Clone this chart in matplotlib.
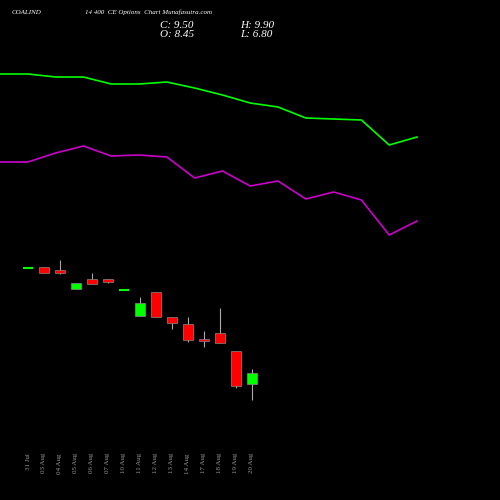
import matplotlib
matplotlib.use('Agg')
import matplotlib.pyplot as plt

dates = ['31 Jul', '03 Aug', '04 Aug', '05 Aug', '06 Aug', '07 Aug', '10 Aug', '11 Aug',
         '12 Aug', '13 Aug', '14 Aug', '17 Aug', '18 Aug', '19 Aug', '20 Aug']
opens = [20.0, 20.06, 19.8, 17.9, 18.93, 18.93, 17.8, 15.23, 17.6, 15.1, 14.4, 12.9, 13.47, 11.7, 8.45]
closes = [20.0, 19.5, 19.53, 18.53, 18.37, 18.63, 17.8, 16.47, 15.1, 14.5, 12.77, 12.67, 12.53, 8.17, 9.5]
highs = [20.0, 20.06, 20.8, 18.53, 19.53, 18.93, 17.8, 17.13, 17.6, 15.1, 15.1, 13.67, 16.0, 11.7, 9.9]
lows = [20.0, 19.5, 19.4, 17.9, 18.37, 18.47, 17.8, 15.23, 15.1, 13.9, 12.63, 12.1, 12.47, 7.97, 6.8]

# indicator lines (same price scale)
upper = [39.4, 39.4, 39.1, 39.1, 38.4, 38.4, 38.6, 38.0, 37.3, 36.5, 36.1, 35.0, 34.9, 34.8, 32.3, 33.1]
lower = [30.6, 30.6, 31.5, 32.2, 31.2, 31.3, 31.1, 29.0, 29.7, 28.2, 28.7, 26.9, 27.6, 26.8, 23.3, 24.7]

fig = plt.figure(figsize=(5, 5), dpi=100, facecolor='black')
ax = fig.add_axes([0, 0, 1, 1])
ax.set_facecolor('black')
ax.set_xlim(-1.75, 29.5)
ax.set_ylim(-3.2, 46.8)
ax.axis('off')

for i in range(len(dates)):
    col = '#00ff00' if closes[i] >= opens[i] else '#ff0000'
    ax.vlines(i, lows[i], highs[i], color='#aaaaaa', lw=0.8, zorder=1)
    bot = min(opens[i], closes[i])
    h = abs(closes[i] - opens[i])
    if h < 0.15:
        ax.hlines(bot, i - 0.3, i + 0.3, color=col, lw=1.5, zorder=2)
    else:
        ax.bar(i, h, bottom=bot, width=0.6, color=col, edgecolor='#888888', lw=0.5, zorder=2)
    ax.text(i, 1.5, dates[i], rotation=90, color='#999999', fontsize=5,
            family='Liberation Serif', ha='center', va='top')

ax2 = ax.twiny()
ax2.set_xlim(0, 500 / 27.8)
ax2.axis('off')
ax2.plot(range(len(upper)), upper, color='#00ff00', lw=1.2)
ax2.plot(range(len(lower)), lower, color='#cc00cc', lw=1.2)

kw = dict(color='white', family='Liberation Serif', style='italic', transform=fig.transFigure)
fig.text(0.024, 0.972, 'COALIND', fontsize=5, **kw)
fig.text(0.17, 0.972, '14 400  CE Options  Chart Munafasutra.com', fontsize=5, **kw)
fig.text(0.32, 0.945, 'C: 9.50', fontsize=8, **kw)
fig.text(0.48, 0.945, 'H: 9.90', fontsize=8, **kw)
fig.text(0.32, 0.926, 'O: 8.45', fontsize=8, **kw)
fig.text(0.48, 0.926, 'L: 6.80', fontsize=8, **kw)

fig.savefig('out.png', facecolor='black')
